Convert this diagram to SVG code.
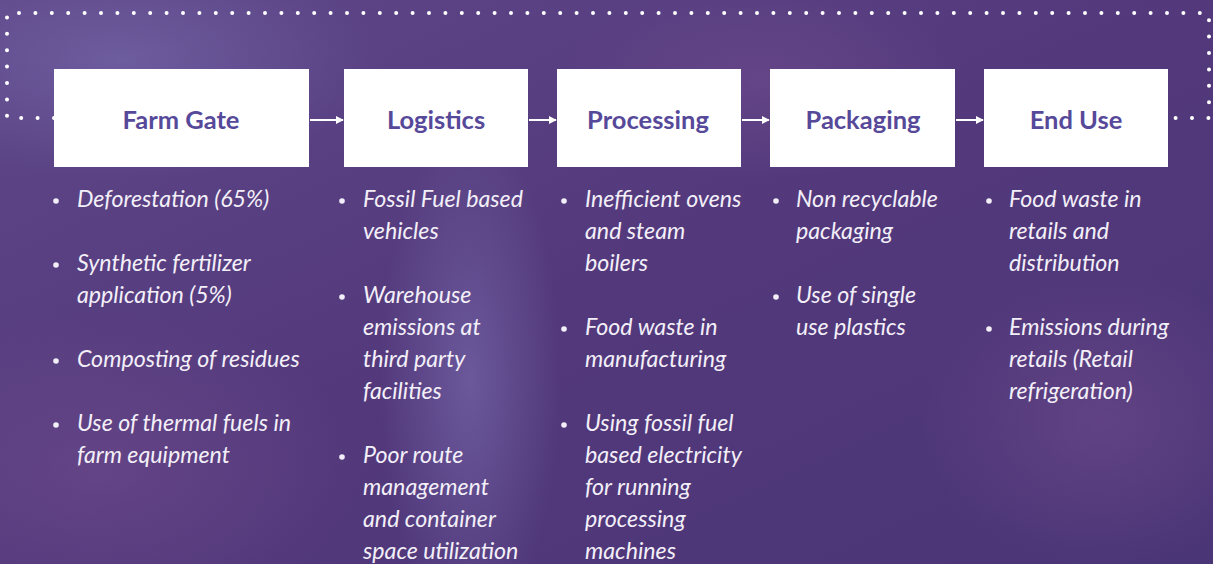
<svg xmlns="http://www.w3.org/2000/svg" width="1213" height="564" viewBox="0 0 1213 564">
<defs>
<linearGradient id="bg" x1="0" y1="0" x2="1" y2="1">
<stop offset="0" stop-color="#5e4788"/>
<stop offset="0.5" stop-color="#53397c"/>
<stop offset="1" stop-color="#4a3576"/>
</linearGradient>
<radialGradient id="g1" cx="0.5" cy="0.5" r="0.5">
<stop offset="0" stop-color="#7466a8" stop-opacity="0.7"/>
<stop offset="1" stop-color="#7466a8" stop-opacity="0"/>
</radialGradient>
<radialGradient id="g2" cx="0.5" cy="0.5" r="0.5">
<stop offset="0" stop-color="#6e4b8c" stop-opacity="0.6"/>
<stop offset="1" stop-color="#6e4b8c" stop-opacity="0"/>
</radialGradient>
<marker id="ah" viewBox="0 0 10 10" refX="9" refY="5" markerWidth="8" markerHeight="9" markerUnits="userSpaceOnUse" orient="auto">
<path d="M0,0 L10,5 L0,10 Z" fill="#ffffff"/>
</marker>
<style>
.box{fill:#ffffff}
.title{font-family:Lato,"Source Sans Pro","Noto Sans",sans-serif;font-weight:bold;font-size:25.5px;fill:#57499a;text-anchor:middle}
.item{font-family:Lato,"Noto Sans",sans-serif;font-style:italic;font-size:23.2px;fill:#f3eff8}
.dot{fill:#f3eff8}
.conn{stroke:#ffffff;stroke-width:2;fill:none}
.dots{stroke:#ffffff;stroke-width:4;stroke-linecap:round;stroke-dasharray:0 16.4;fill:none}
</style>
</defs>
<rect width="1213" height="564" fill="url(#bg)"/>
<ellipse cx="120" cy="60" rx="260" ry="120" fill="url(#g1)"/>
<ellipse cx="470" cy="380" rx="90" ry="260" fill="url(#g1)"/>
<ellipse cx="100" cy="470" rx="260" ry="160" fill="url(#g2)"/>
<ellipse cx="760" cy="80" rx="200" ry="100" fill="url(#g2)"/>
<ellipse cx="1100" cy="420" rx="180" ry="150" fill="url(#g2)"/>

<g id="frame">
<path class="dots" d="M54,118 L7,118 L7,13 L1209,13 L1209,118 L1168,118"/>
</g>

<g id="connectors">
<line class="conn" x1="310" y1="120" x2="343" y2="120" marker-end="url(#ah)"/>
<line class="conn" x1="529" y1="120" x2="556" y2="120" marker-end="url(#ah)"/>
<line class="conn" x1="742" y1="120" x2="769" y2="120" marker-end="url(#ah)"/>
<line class="conn" x1="956" y1="120" x2="983" y2="120" marker-end="url(#ah)"/>
</g>

<g id="farm-gate">
<rect class="box" x="54" y="69" width="255" height="98"/>
<text class="title" x="181" y="129">Farm Gate</text>
<circle class="dot" cx="56" cy="201" r="2.8"/>
<text class="item" x="77" y="207">Deforestation (65%)</text>
<circle class="dot" cx="56" cy="265" r="2.8"/>
<text class="item" x="77" y="271">Synthetic fertilizer</text>
<text class="item" x="77" y="303">application (5%)</text>
<circle class="dot" cx="56" cy="361" r="2.8"/>
<text class="item" x="77" y="367">Composting of residues</text>
<circle class="dot" cx="56" cy="425" r="2.8"/>
<text class="item" x="77" y="431">Use of thermal fuels in</text>
<text class="item" x="77" y="463">farm equipment</text>
</g>

<g id="logistics">
<rect class="box" x="344" y="69" width="184" height="98"/>
<text class="title" x="436" y="129">Logistics</text>
<circle class="dot" cx="342" cy="201" r="2.8"/>
<text class="item" x="363" y="207">Fossil Fuel based</text>
<text class="item" x="363" y="239">vehicles</text>
<circle class="dot" cx="342" cy="297" r="2.8"/>
<text class="item" x="363" y="303">Warehouse</text>
<text class="item" x="363" y="335">emissions at</text>
<text class="item" x="363" y="367">third party</text>
<text class="item" x="363" y="399">facilities</text>
<circle class="dot" cx="342" cy="457" r="2.8"/>
<text class="item" x="363" y="463">Poor route</text>
<text class="item" x="363" y="495">management</text>
<text class="item" x="363" y="527">and container</text>
<text class="item" x="363" y="559">space utilization</text>
</g>

<g id="processing">
<rect class="box" x="557" y="69" width="184" height="98"/>
<text class="title" x="648" y="129">Processing</text>
<circle class="dot" cx="564" cy="201" r="2.8"/>
<text class="item" x="585" y="207">Inefficient ovens</text>
<text class="item" x="585" y="239">and steam</text>
<text class="item" x="585" y="271">boilers</text>
<circle class="dot" cx="564" cy="329" r="2.8"/>
<text class="item" x="585" y="335">Food waste in</text>
<text class="item" x="585" y="367">manufacturing</text>
<circle class="dot" cx="564" cy="425" r="2.8"/>
<text class="item" x="585" y="431">Using fossil fuel</text>
<text class="item" x="585" y="463">based electricity</text>
<text class="item" x="585" y="495">for running</text>
<text class="item" x="585" y="527">processing</text>
<text class="item" x="585" y="559">machines</text>
</g>

<g id="packaging">
<rect class="box" x="770" y="69" width="185" height="98"/>
<text class="title" x="863" y="129">Packaging</text>
<circle class="dot" cx="776" cy="201" r="2.8"/>
<text class="item" x="796" y="207">Non recyclable</text>
<text class="item" x="796" y="239">packaging</text>
<circle class="dot" cx="776" cy="297" r="2.8"/>
<text class="item" x="796" y="303">Use of single</text>
<text class="item" x="796" y="335">use plastics</text>
</g>

<g id="end-use">
<rect class="box" x="984" y="69" width="184" height="98"/>
<text class="title" x="1076" y="129">End Use</text>
<circle class="dot" cx="989" cy="201" r="2.8"/>
<text class="item" x="1009" y="207">Food waste in</text>
<text class="item" x="1009" y="239">retails and</text>
<text class="item" x="1009" y="271">distribution</text>
<circle class="dot" cx="989" cy="329" r="2.8"/>
<text class="item" x="1009" y="335">Emissions during</text>
<text class="item" x="1009" y="367">retails (Retail</text>
<text class="item" x="1009" y="399">refrigeration)</text>
</g>
</svg>
